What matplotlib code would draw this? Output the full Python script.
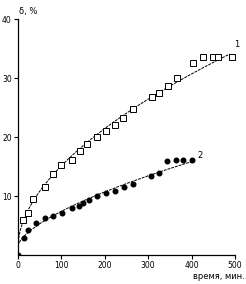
import numpy as np
import matplotlib
matplotlib.use("Agg")
import matplotlib.pyplot as plt

# данные кривой 1 (открытые квадраты)
t1 = [11, 23, 35, 62, 81, 100, 124, 143, 160, 183, 203, 223, 243, 266, 308, 326, 346, 366, 404, 427, 450, 461, 492]
e1 = [5.9, 7.2, 9.5, 11.6, 13.7, 15.3, 16.1, 17.6, 18.9, 20.0, 21.0, 22.0, 23.2, 24.7, 26.8, 27.5, 28.6, 30.0, 32.6, 33.5, 33.6, 33.6, 33.6]

# данные кривой 2 (чёрные точки)
t2 = [0, 14, 24, 41, 62, 81, 102, 124, 140, 150, 163, 183, 203, 223, 244, 264, 306, 326, 344, 363, 381, 400]
e2 = [0, 2.9, 4.3, 5.5, 6.2, 6.7, 7.1, 7.9, 8.3, 8.8, 9.4, 10.0, 10.5, 10.9, 11.5, 12.0, 13.4, 13.9, 16.0, 16.1, 16.1, 16.1]

xticks = [0, 100, 200, 300, 400, 500]
yticks = [10, 20, 30, 40]


def power_fit(t, e, c=1.5):
    # аппроксимация e = c + a * t^b
    t = np.asarray(t, float)
    e = np.asarray(e, float)
    m = (t > 0) & (e > c)
    b, la = np.polyfit(np.log(t[m]), np.log(e[m] - c), 1)
    return lambda x: c + np.exp(la) * x ** b


fig = plt.figure(figsize=(2.46, 2.84), dpi=100)
ax = fig.add_axes([0.0732, 0.102, 0.882, 0.831])

f1 = power_fit(t1, e1)
f2 = power_fit(t2, e2)
xx1 = np.linspace(0, 488, 200)
xx2 = np.linspace(0, 400, 200)
ax.plot(xx1, f1(xx1), color="black", lw=0.7, ls=(0, (3, 1)))
ax.plot(xx2, f2(xx2), color="black", lw=0.7, ls=(0, (3, 1)))

ax.plot(t1, e1, ls="none", marker="s", ms=3.8, mfc="white", mec="black", mew=0.7)
ax.plot(t2, e2, ls="none", marker="o", ms=3.3, mfc="black", mec="black")

ax.text(505, 35.7, "1", fontsize=6, ha="center", va="center")
ax.text(420, 16.8, "2", fontsize=6, ha="center", va="center")

ax.set_xlim(0, 500)
ax.set_ylim(0, 40)
ax.set_xticks(xticks)
ax.set_yticks(yticks)
ax.tick_params(labelsize=5.5, length=3, width=0.8, direction="out", pad=1.5)
for s in ["top", "right"]:
    ax.spines[s].set_visible(False)
for s in ["left", "bottom"]:
    ax.spines[s].set_linewidth(0.9)

fig.text(0.077, 0.961, "δ, %", fontsize=6, ha="left", va="center")
fig.text(0.995, 0.028, "время, мин.", fontsize=6, ha="right", va="center")

fig.savefig("out.png", dpi=100)
